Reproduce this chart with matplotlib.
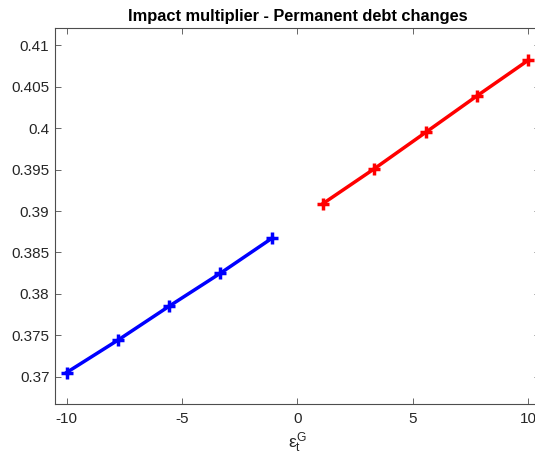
import matplotlib
matplotlib.use("Agg")
import matplotlib.pyplot as plt
import numpy as np

# shock sizes and impact multipliers
x_neg = [-10, -7.78, -5.56, -3.33, -1.11]
y_neg = [0.3705, 0.3744, 0.3785, 0.3825, 0.3867]
x_pos = [1.11, 3.33, 5.56, 7.78, 10]
y_pos = [0.3909, 0.3951, 0.3995, 0.4039, 0.4082]

xticks = [-10, -5, 0, 5, 10]
yticks = [0.37, 0.375, 0.38, 0.385, 0.39, 0.395, 0.4, 0.405, 0.41]
ytick_labels = ['0.37', '0.375', '0.38', '0.385', '0.39', '0.395', '0.4', '0.405', '0.41']

plt.rcParams['font.family'] = ['Liberation Sans', 'DejaVu Sans']
plt.rcParams['axes.unicode_minus'] = False
plt.rcParams['mathtext.fontset'] = 'custom'
plt.rcParams['mathtext.rm'] = 'Liberation Sans'
plt.rcParams['mathtext.it'] = 'Liberation Sans'

fig = plt.figure(figsize=(5.35, 4.62), dpi=100)
ax = fig.add_axes([0.1028, 0.1255, 0.906, 0.8139])

ax.plot(x_neg, y_neg, '-+', color='blue', lw=2.5, ms=8, mew=2.5)
ax.plot(x_pos, y_pos, '-+', color='red', lw=2.5, ms=8, mew=2.5)

ax.set_xlim(-10.5, 10.5)
ax.set_ylim(0.3667, 0.4121)
ax.set_xticks(xticks)
ax.set_yticks(yticks)
ax.set_yticklabels(ytick_labels)

grey = '#262626'
for s in ax.spines.values():
    s.set_color('#4d4d4d')
    s.set_linewidth(0.8)
ax.tick_params(direction='in', top=True, right=True, length=4, width=0.6,
               color='#4d4d4d', labelcolor=grey, labelsize=11)
ax.tick_params(axis='y', pad=4)
ax.tick_params(axis='x', pad=6)

ax.set_title('Impact multiplier - Permanent debt changes', fontsize=11.8,
             fontweight='bold', color='black', pad=5)
ax.set_xlabel(r'$\epsilon_{\rm t}^{\rm G}$', fontsize=12.5, color=grey, labelpad=3)

fig.savefig('out.png', dpi=100)
